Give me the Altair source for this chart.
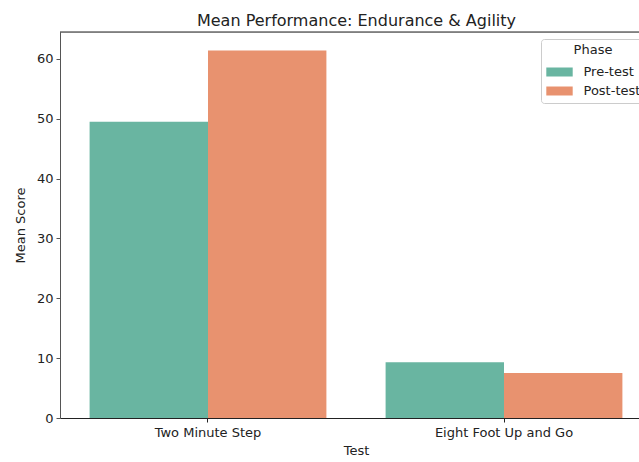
import altair as alt
import pandas as pd

tests = ["Two Minute Step", "Two Minute Step", "Eight Foot Up and Go", "Eight Foot Up and Go"]
phases = ["Pre-test", "Post-test", "Pre-test", "Post-test"]
scores = [49.5, 61.4, 9.3, 7.5]

test_order = ["Two Minute Step", "Eight Foot Up and Go"]
phase_order = ["Pre-test", "Post-test"]
colors = ["#69b5a1", "#e8926f"]

df = pd.DataFrame({"Test": tests, "Phase": phases, "Score": scores})

W, H = 579, 386
FONT = "DejaVu Sans"

bars = alt.Chart(df).mark_bar(clip=True).encode(
    x=alt.X("Test:N", sort=test_order,
            scale=alt.Scale(range=[0, 592], paddingInner=0.2, paddingOuter=0.1),
            axis=alt.Axis(title="Test", labelAngle=0, labelFontSize=13, titleFontSize=13,
                          labelColor="#222", titleColor="#222", domainColor="#222",
                          tickColor="#222", tickSize=4, labelPadding=4, titlePadding=5,
                          titleFontWeight="normal", labelFont=FONT, titleFont=FONT)),
    xOffset=alt.XOffset("Phase:N", sort=phase_order, scale=alt.Scale(paddingInner=0, paddingOuter=0)),
    y=alt.Y("Score:Q", scale=alt.Scale(domain=[0, 64.5], nice=False, zero=True),
            axis=alt.Axis(title="Mean Score", values=[0, 10, 20, 30, 40, 50, 60], grid=False,
                          labelFontSize=13, titleFontSize=13, labelColor="#222",
                          titleColor="#222", domainColor="#555", tickColor="#555", tickSize=4,
                          labelPadding=3, titlePadding=9, titleFontWeight="normal",
                          labelFont=FONT, titleFont=FONT)),
    color=alt.Color("Phase:N", sort=phase_order,
                    scale=alt.Scale(domain=phase_order, range=colors),
                    legend=alt.Legend(title="Phase", orient="none", legendX=481, legendY=7,
                                      titleAnchor="middle", titleAlign="center",
                                      titleFontWeight="normal", titleFontSize=13,
                                      labelFontSize=13, titleColor="#222", labelColor="#222",
                                      titleFont=FONT, labelFont=FONT,
                                      symbolType="M-1.32,-0.45L1.32,-0.45L1.32,0.45L-1.32,0.45Z",
                                      symbolSize=400, symbolStrokeWidth=0, symbolOpacity=1,
                                      symbolOffset=3.5,
                                      fillColor="rgba(255,255,255,0.8)", strokeColor="#cccccc",
                                      cornerRadius=3, padding=5, rowPadding=2, labelOffset=14,
                                      titlePadding=5)),
)

top_spine = alt.Chart(pd.DataFrame({"a": [0]})).mark_rule(color="#222", strokeWidth=1).encode(
    x=alt.value(0), x2=alt.value(W), y=alt.value(0)
)

chart = alt.layer(bars, top_spine).properties(
    width=W, height=H,
    title=alt.TitleParams("Mean Performance: Endurance & Agility", fontSize=16, font=FONT,
                          fontWeight="normal", color="#222", anchor="middle", dx=7, offset=3),
    autosize=alt.AutoSizeParams(type="none"),
    padding={"left": 60, "top": 32, "right": 0, "bottom": 44},
).configure_view(stroke=None).configure(background="white")

chart.save("out.html", embed_options={"renderer": "svg", "actions": False})
